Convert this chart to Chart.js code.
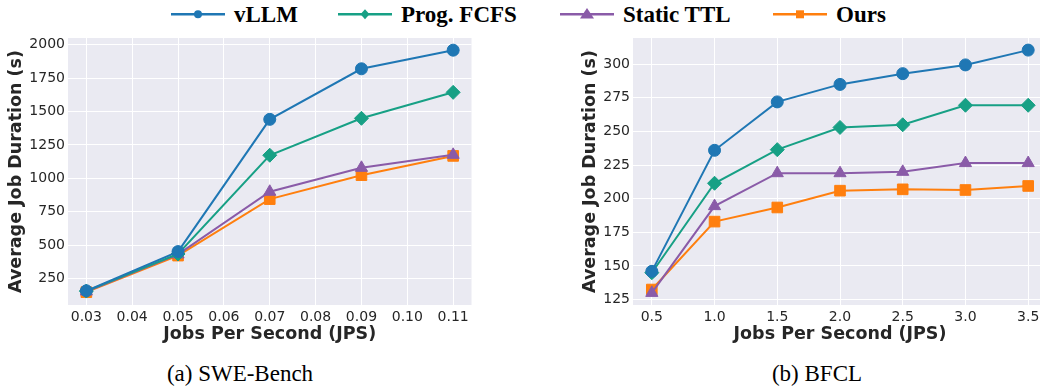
<!DOCTYPE html>
<html>
<head>
<meta charset="utf-8">
<script src="https://cdn.jsdelivr.net/npm/chart.js@4.4.1/dist/chart.umd.min.js"></script>
<style>
  body { margin: 0; width: 1040px; height: 387px; overflow: hidden; background: #fff; position: relative; }
  canvas { position: absolute; top: 0; }
  #swe { left: 0; }
  #bfcl { left: 530px; }
  .item { position: absolute; top: 3px; height: 24px; font: bold 23px "Liberation Serif", "Times New Roman", serif; line-height: 23px; color: #000; white-space: nowrap; }
  .item svg { position: absolute; left: 0; top: 0; }
  .item span { position: absolute; left: 63px; top: 0; }
  .caption { position: absolute; top: 362px; font: 23px "Liberation Serif", "Times New Roman", serif; line-height: 23px; color: #000; transform: translateX(-50%); white-space: nowrap; }
</style>
</head>
<body>
<div class="item" style="left:171px"><svg width="56" height="24"><line x1="0" y1="11.3" x2="54" y2="11.3" stroke="#1f77b4" stroke-width="2.5"/><circle cx="27" cy="11.3" r="4" fill="#1f77b4"/></svg><span>vLLM</span></div>
<div class="item" style="left:338px"><svg width="56" height="24"><line x1="0" y1="11.3" x2="54" y2="11.3" stroke="#17a085" stroke-width="2.5"/><polygon points="27,6.3 31.5,11.3 27,16.3 22.5,11.3" fill="#17a085"/></svg><span>Prog. FCFS</span></div>
<div class="item" style="left:560px"><svg width="56" height="24"><line x1="0" y1="11.3" x2="54" y2="11.3" stroke="#8a5ba8" stroke-width="2.5"/><polygon points="27,5 34,15.5 20,15.5" fill="#8a5ba8"/></svg><span>Static TTL</span></div>
<div class="item" style="left:773px"><svg width="56" height="24"><line x1="0" y1="11.3" x2="54" y2="11.3" stroke="#ff7f0e" stroke-width="2.5"/><rect x="23" y="7.3" width="8" height="8" fill="#ff7f0e"/></svg><span>Ours</span></div>

<canvas id="swe" width="480" height="350"></canvas>
<canvas id="bfcl" width="530" height="350"></canvas>

<div class="caption" style="left:240px">(a) SWE-Bench</div>
<div class="caption" style="left:817px">(b) BFCL</div>

<script>
// --- Data: SWE-Bench ---
const sweJps = [0.03, 0.05, 0.07, 0.09, 0.11];
const sweVllm = [160, 453, 1441, 1819, 1958];
const sweFcfs = [158, 435, 1173, 1449, 1643];
const sweTtl = [155, 432, 900, 1079, 1176];
const sweOurs = [150, 423, 845, 1024, 1168];
const sweXTicks = [0.03, 0.04, 0.05, 0.06, 0.07, 0.08, 0.09, 0.10, 0.11];
const sweYTicks = [250, 500, 750, 1000, 1250, 1500, 1750, 2000];

// --- Data: BFCL ---
const bfclJps = [0.5, 1.0, 1.5, 2.0, 2.5, 3.0, 3.5];
const bfclVllm = [146, 236, 272, 285, 293, 299.5, 310.5];
const bfclFcfs = [145, 211.5, 236.5, 253, 255, 269.5, 269.5];
const bfclTtl = [130, 194.5, 219, 219, 220, 226.5, 226.5];
const bfclOurs = [132.5, 183, 193.5, 206, 207, 206.5, 209.5];
const bfclXTicks = [0.5, 1.0, 1.5, 2.0, 2.5, 3.0, 3.5];
const bfclYTicks = [125, 150, 175, 200, 225, 250, 275, 300];

const seriesNames = ["vLLM", "Prog. FCFS", "Static TTL", "Ours"];
const seriesColors = ["#1f77b4", "#17a085", "#8a5ba8", "#ff7f0e"];
const seriesMarkers = ["circle", "rectRot", "triangle", "rect"];
const markerSizes = [6, 7, 7, 7.5];

const textColor = "#262626";
const tickFont = {family: "DejaVu Sans", size: 14};
const titleFont = {family: "DejaVu Sans", size: 17.5, weight: "bold"};

// plots the background of the chart area like seaborn darkgrid
const bgPlugin = {
    id: "bg",
    beforeDraw(chart){
        let a = chart.chartArea, ctx = chart.ctx;
        ctx.save();
        ctx.fillStyle = "#eaeaf2";
        ctx.fillRect(a.left, a.top, a.right - a.left, a.bottom - a.top);
        ctx.restore();
    }
};

function makeChart(id, xs, ys, opt){
    let datasets = ys.map((vals, i) => ({
        label: seriesNames[i],
        data: xs.map((x, j) => ({x: x, y: vals[j]})),
        borderColor: seriesColors[i],
        backgroundColor: seriesColors[i],
        borderWidth: 2,
        pointStyle: seriesMarkers[i],
        pointRadius: markerSizes[i],
        pointBorderWidth: 1,
        pointBorderColor: seriesColors[i],
        pointBackgroundColor: seriesColors[i],
        tension: 0
    }));

    return new Chart(document.getElementById(id), {
        type: "line",
        data: {datasets},
        plugins: [bgPlugin],
        options: {
            responsive: false,
            animation: false,
            layout: {padding: {top: 38, right: opt.padRight, left: 0, bottom: 0}},
            plugins: {legend: {display: false}, tooltip: {enabled: false}},
            scales: {
                x: {
                    type: "linear",
                    min: opt.xMin, max: opt.xMax,
                    afterBuildTicks: s => { s.ticks = opt.xTicks.map(v => ({value: v})); },
                    afterFit: s => { s.height = 45; },
                    grid: {color: "#ffffff", lineWidth: 1, drawTicks: false},
                    border: {display: false},
                    ticks: {
                        color: textColor, font: tickFont, padding: 4, maxRotation: 0,
                        callback: v => v.toFixed(opt.xDigits)
                    },
                    title: {display: true, text: "Jobs Per Second (JPS)", color: textColor, font: titleFont, padding: {top: 0, bottom: 5}}
                },
                y: {
                    type: "linear",
                    min: opt.yMin, max: opt.yMax,
                    afterBuildTicks: s => { s.ticks = opt.yTicks.map(v => ({value: v})); },
                    afterFit: s => { s.width = opt.yWidth; },
                    grid: {color: "#ffffff", lineWidth: 1, drawTicks: false},
                    border: {display: false},
                    ticks: {color: textColor, font: tickFont, padding: 3, callback: v => String(v)},
                    title: {display: true, text: "Average Job Duration (s)", color: textColor, font: titleFont, padding: {top: opt.yTitlePad, bottom: 0}}
                }
            }
        }
    });
}

makeChart("swe", sweJps, [sweVllm, sweFcfs, sweTtl, sweOurs], {
    xMin: 0.026, xMax: 0.114, xTicks: sweXTicks, xDigits: 2,
    yMin: 54, yMax: 2049, yTicks: sweYTicks,
    yWidth: 68, yTitlePad: 5.5, padRight: 8
});

makeChart("bfcl", bfclJps, [bfclVllm, bfclFcfs, bfclTtl, bfclOurs], {
    xMin: 0.35, xMax: 3.65, xTicks: bfclXTicks, xDigits: 1,
    yMin: 121, yMax: 319.5, yTicks: bfclYTicks,
    yWidth: 103, yTitlePad: 49.5, padRight: 13
});
</script>
</body>
</html>
